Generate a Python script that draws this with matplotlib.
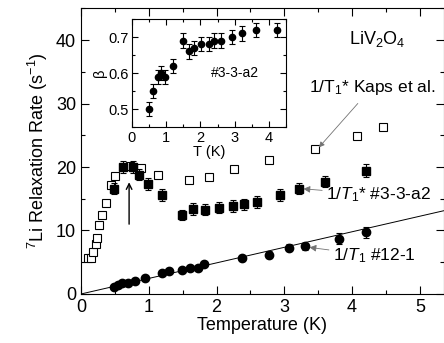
import matplotlib
matplotlib.use("Agg")
import matplotlib.pyplot as plt
from matplotlib.ticker import MultipleLocator
import numpy as np

plt.rcParams["font.family"] = ["Liberation Sans", "DejaVu Sans"]
plt.rcParams["mathtext.fontset"] = "custom"
plt.rcParams["mathtext.rm"] = "Liberation Sans"
plt.rcParams["mathtext.it"] = "Liberation Sans:italic"

# 1/T1* Kaps et al. (open squares)
kapsT = [0.11, 0.15, 0.17, 0.22, 0.24, 0.27, 0.31, 0.37, 0.45, 0.50, 0.73, 0.88,
         1.13, 1.60, 1.89, 2.26, 2.77, 3.46, 4.07, 4.46]
kapsRate = [5.7, 5.7, 6.6, 7.8, 8.8, 10.8, 12.5, 14.3, 17.1, 18.6, 20.2, 19.8,
            18.7, 18.0, 18.5, 19.7, 21.1, 22.9, 24.9, 26.3]

# 1/T1* #3-3-a2 (filled squares)
sqT = [0.49, 0.62, 0.77, 0.85, 0.99, 1.20, 1.49, 1.66, 1.83, 2.03, 2.25, 2.41,
       2.60, 2.93, 3.21, 3.60, 4.20]
sqRate = [16.6, 20.0, 20.0, 18.8, 17.3, 15.6, 12.4, 13.4, 13.3, 13.6, 13.85, 14.1,
          14.5, 15.6, 16.6, 17.7, 19.4]
sqErr = [0.9, 1.0, 1.0, 0.9, 0.9, 0.9, 0.8, 0.9, 0.9, 0.9, 0.9, 0.9,
         0.9, 0.9, 0.9, 0.9, 1.0]

# 1/T1 #12-1 (filled circles)
cT = [0.49, 0.55, 0.60, 0.69, 0.80, 0.95, 1.19, 1.30, 1.49, 1.61, 1.72, 1.81,
      2.37, 2.77, 3.07, 3.30, 3.80, 4.20]
cRate = [1.15, 1.35, 1.7, 1.7, 2.0, 2.5, 3.25, 3.6, 3.85, 4.1, 4.1, 4.7,
         5.7, 6.2, 7.3, 7.5, 8.7, 9.7]
cErr = [0.2, 0.2, 0.2, 0.2, 0.2, 0.3, 0.3, 0.3, 0.3, 0.3, 0.3, 0.3,
        0.5, 0.5, 0.6, 0.6, 0.9, 0.9]

# linear fit slope
slope = 2.45

# inset: stretch exponent beta
betaT = [0.49, 0.62, 0.76, 0.85, 0.98, 1.19, 1.50, 1.66, 1.82, 2.02, 2.25, 2.41,
         2.60, 2.93, 3.22, 3.61, 4.22]
beta = [0.50, 0.55, 0.59, 0.60, 0.59, 0.62, 0.69, 0.66, 0.67, 0.68, 0.68, 0.69,
        0.69, 0.70, 0.71, 0.72, 0.72]
betaErr = [0.02] * len(beta)

fig = plt.figure(figsize=(4.44, 3.43), dpi=100)
ax = fig.add_axes([0.1824, 0.1429, 0.8166, 0.8329])

fitT = np.array([0, 5.35])
ax.plot(fitT, slope * fitT, color="black", lw=0.7)
ax.plot(kapsT, kapsRate, "s", mfc="white", mec="black", ms=5.5, mew=0.8)
ax.errorbar(sqT, sqRate, yerr=sqErr, fmt="s", color="black", ms=6,
            elinewidth=0.8, capsize=2.5, capthick=0.8)
ax.errorbar(cT, cRate, yerr=cErr, fmt="o", color="black", ms=6,
            elinewidth=0.8, capsize=2.5, capthick=0.8)

ax.set_xlim(0, 5.35)
ax.set_ylim(0, 45)
ax.xaxis.set_major_locator(MultipleLocator(1))
ax.xaxis.set_minor_locator(MultipleLocator(0.5))
ax.yaxis.set_major_locator(MultipleLocator(10))
ax.yaxis.set_minor_locator(MultipleLocator(5))
ax.tick_params(which="both", direction="in", top=True, right=True, labelsize=13, width=0.8)
ax.tick_params(which="major", length=6)
ax.tick_params(which="minor", length=3)
ax.set_xlabel("Temperature (K)", fontsize=13, labelpad=1)
ax.set_ylabel("$^7$Li Relaxation Rate (s$^{-1}$)", fontsize=13, labelpad=4)

ax.text(4.37, 40.2, "LiV$_2$O$_4$", fontsize=13, ha="center", va="center")

ax.annotate("1/T$_1$* Kaps et al.", xy=(3.47, 22.6), xytext=(4.3, 32.6),
            fontsize=12.5, ha="center", va="center",
            arrowprops=dict(arrowstyle="-|>", color="0.45", lw=0.6,
                            shrinkA=4, shrinkB=3, mutation_scale=8))
ax.annotate("1/$T_1$* #3-3-a2", xy=(3.24, 16.6), xytext=(3.62, 15.6),
            fontsize=12.5, ha="left", va="center",
            arrowprops=dict(arrowstyle="-|>", color="0.45", lw=0.6,
                            shrinkA=1, shrinkB=2, mutation_scale=10))
ax.annotate("1/$T_1$ #12-1", xy=(3.33, 7.4), xytext=(3.72, 6.0),
            fontsize=12.5, ha="left", va="center",
            arrowprops=dict(arrowstyle="-|>", color="0.45", lw=0.6,
                            shrinkA=1, shrinkB=2, mutation_scale=10))
ax.annotate("", xy=(0.71, 17.6), xytext=(0.71, 11.0),
            arrowprops=dict(arrowstyle="->", color="black", lw=1.0,
                            shrinkA=0, shrinkB=0))

ins = fig.add_axes([0.2966, 0.6289, 0.3482, 0.3157])
ins.errorbar(betaT, beta, yerr=betaErr, fmt="o", color="black", ms=4.5,
             elinewidth=0.8, capsize=2, capthick=0.8)
ins.set_xlim(0, 4.5)
ins.set_ylim(0.45, 0.75)
ins.xaxis.set_major_locator(MultipleLocator(1))
ins.xaxis.set_minor_locator(MultipleLocator(0.5))
ins.yaxis.set_major_locator(MultipleLocator(0.1))
ins.yaxis.set_minor_locator(MultipleLocator(0.05))
ins.tick_params(which="both", direction="in", top=True, right=True, labelsize=10.5, width=0.8)
ins.tick_params(axis="x", pad=3)
ins.tick_params(axis="y", pad=2)
ins.tick_params(which="major", length=4)
ins.tick_params(which="minor", length=2)
ins.set_xlabel("T (K)", fontsize=10.5, labelpad=0)
ins.set_ylabel("β", fontsize=10.5, labelpad=1)
ins.text(2.3, 0.6, "#3-3-a2", fontsize=10, ha="left", va="center")

fig.savefig("out.png", dpi=100)
